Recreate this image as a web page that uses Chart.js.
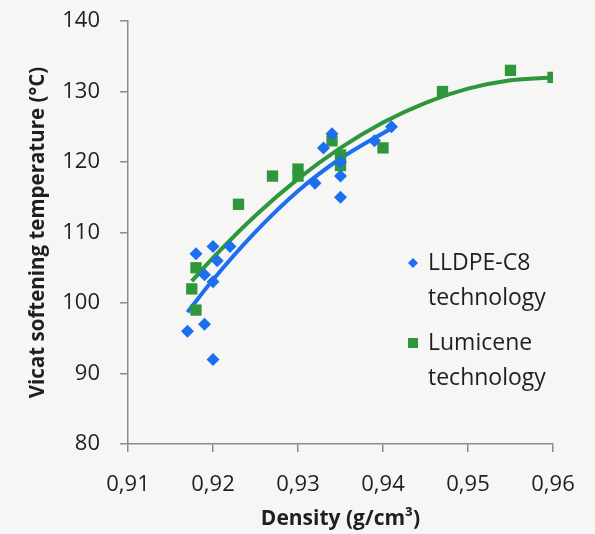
<!DOCTYPE html>
<html>
<head>
<meta charset="utf-8">
<script src="https://cdn.jsdelivr.net/npm/chart.js@4.4.0/dist/chart.umd.min.js"></script>
<style>
    html, body { margin: 0; padding: 0; background: #f6f6f4; }
    canvas { display: block; }
</style>
</head>
<body>
<canvas id="vicatChart" width="595" height="534"></canvas>
<script>
// Data
const blueDensity = [0.917, 0.918, 0.919, 0.919, 0.920, 0.9205, 0.920, 0.920, 0.922, 0.932, 0.933, 0.934, 0.935, 0.935, 0.935, 0.939, 0.941];
const blueVicat   = [96, 107, 97, 104, 103, 106, 108, 92, 108, 117, 122, 124, 120, 118, 115, 123, 125];

const greenDensity = [0.9175, 0.918, 0.918, 0.923, 0.927, 0.930, 0.930, 0.934, 0.935, 0.935, 0.940, 0.947, 0.955, 0.960];
const greenVicat   = [102, 105, 99, 114, 118, 119, 118, 123, 121, 119.5, 122, 130, 133, 132];

// Trend lines
const blueFitDensity = [0.917, 0.920, 0.925, 0.930, 0.935, 0.941];
const blueFitVicat   = [98.7, 103.3, 110.1, 115.9, 120.5, 124.8];
const greenFitDensity = [0.9175, 0.920, 0.925, 0.930, 0.935, 0.940, 0.945, 0.950, 0.955, 0.960];
const greenFitVicat   = [103.1, 106.4, 112.4, 117.6, 122.0, 125.6, 128.4, 130.4, 131.6, 132.0];

const xTickLabels = ['0,91', '0,92', '0,93', '0,94', '0,95', '0,96'];
const yTickLabels = ['80', '90', '100', '110', '120', '130', '140'];

const seriesNames = [['LLDPE-C8', 'technology'], ['Lumicene', 'technology']];

const BLUE = '#1d6ff0';
const GREEN = '#2f963b';
const TEXT = '#1f1f1f';
const AXIS = '#8a8a8a';

function toPoints(xs, ys) {
    return xs.map((x, i) => ({ x: x, y: ys[i] }));
}

// Legend drawn inside the plot, two lines per entry
const sideLegend = {
    id: 'sideLegend',
    afterDraw(chart) {
        const ctx = chart.ctx;
        const x0 = 413, textX = 428;
        const rows = [263, 343];
        ctx.save();
        ctx.font = '23px "Open Sans"';
        ctx.textBaseline = 'middle';
        rows.forEach((y, i) => {
            ctx.fillStyle = i === 0 ? BLUE : GREEN;
            ctx.beginPath();
            if (i === 0) {
                ctx.moveTo(x0, y - 5); ctx.lineTo(x0 + 5, y); ctx.lineTo(x0, y + 5); ctx.lineTo(x0 - 5, y);
            } else {
                ctx.rect(x0 - 5, y - 5, 10, 10);
            }
            ctx.fill();
            ctx.fillStyle = TEXT;
            seriesNames[i].forEach((line, j) => ctx.fillText(line, textX, y + j * 35));
        });
        ctx.restore();
    }
};

document.addEventListener('DOMContentLoaded', function() {
    const ctx = document.getElementById('vicatChart').getContext('2d');
    new Chart(ctx, {
        type: 'scatter',
        data: {
            datasets: [{
                label: 'LLDPE-C8 technology',
                data: toPoints(blueDensity, blueVicat),
                pointStyle: 'rectRot',
                pointRadius: 6.5,
                backgroundColor: BLUE,
                borderColor: BLUE,
                borderWidth: 0
            }, {
                label: 'Lumicene technology',
                data: toPoints(greenDensity, greenVicat),
                pointStyle: 'rect',
                pointRadius: 8,
                backgroundColor: GREEN,
                borderColor: GREEN,
                borderWidth: 0
            }, {
                label: 'fit LLDPE',
                data: toPoints(blueFitDensity, blueFitVicat),
                showLine: true,
                pointRadius: 0,
                borderColor: BLUE,
                borderWidth: 4,
                cubicInterpolationMode: 'monotone'
            }, {
                label: 'fit Lumicene',
                data: toPoints(greenFitDensity, greenFitVicat),
                showLine: true,
                pointRadius: 0,
                borderColor: GREEN,
                borderWidth: 4,
                cubicInterpolationMode: 'monotone'
            }]
        },
        options: {
            responsive: false,
            animation: false,
            devicePixelRatio: 1,
            layout: { padding: { top: 21, right: 42, bottom: 0, left: 0 } },
            plugins: {
                legend: { display: false },
                tooltip: { enabled: false }
            },
            scales: {
                x: {
                    type: 'linear',
                    min: 0.91,
                    max: 0.96,
                    afterFit: function(scale) { scale.height = 90; },
                    ticks: {
                        stepSize: 0.01,
                        color: TEXT,
                        font: { family: 'Open Sans', size: 22 },
                        padding: 20,
                        maxRotation: 0,
                        callback: (v, i) => xTickLabels[i]
                    },
                    grid: { drawOnChartArea: false, tickLength: 8, color: AXIS, lineWidth: 1.5 },
                    border: { color: AXIS, width: 1.5 },
                    title: {
                        display: true,
                        text: 'Density (g/cm³)',
                        color: TEXT,
                        font: { family: 'Open Sans', size: 21, weight: 'bold' },
                        padding: { top: 0, bottom: 2 }
                    }
                },
                y: {
                    min: 80,
                    max: 140,
                    afterFit: function(scale) {
                        scale.width = 128;
                        scale.paddingTop = 0;
                        scale.paddingBottom = 0;
                    },
                    ticks: {
                        stepSize: 10,
                        color: TEXT,
                        font: { family: 'Open Sans', size: 22 },
                        padding: 20,
                        callback: (v, i) => yTickLabels[i]
                    },
                    grid: { drawOnChartArea: false, tickLength: 8, color: AXIS, lineWidth: 1.5 },
                    border: { color: AXIS, width: 1.5 },
                    title: {
                        display: true,
                        text: 'Vicat softening temperature (°C)',
                        color: TEXT,
                        font: { family: 'Open Sans', size: 20.5, weight: 'bold' },
                        padding: { top: 26, bottom: 0 }
                    }
                }
            }
        },
        plugins: [sideLegend]
    });
});
</script>
</body>
</html>
